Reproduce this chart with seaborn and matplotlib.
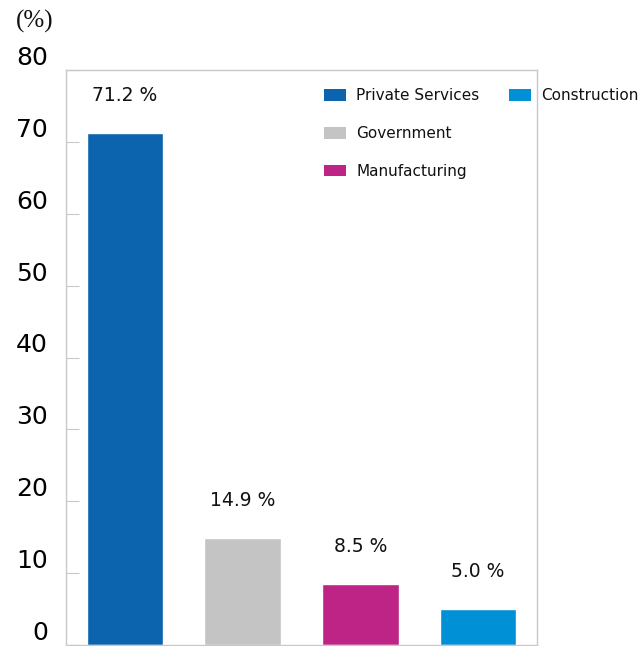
import matplotlib
matplotlib.use("Agg")
import matplotlib.pyplot as plt
import seaborn as sns
import pandas as pd
from matplotlib.patches import Patch

categories = ["Private Services", "Government", "Manufacturing", "Construction"]
values = [71.2, 14.9, 8.5, 5.0]
value_labels = ["71.2 %", "14.9 %", "8.5 %", "5.0 %"]
colors = ["#0C64AE", "#C4C4C4", "#BD2485", "#0090D6"]
yticks = [0, 10, 20, 30, 40, 50, 60, 70, 80]

sns.set_style("white")
plt.rcParams["font.family"] = ["DejaVu Sans"]
plt.rcParams["text.color"] = "#111111"

fig = plt.figure(figsize=(6.41, 6.46), dpi=100)
ax = fig.add_axes([66/641, 1-645/646, (537-66)/641, (645-70)/646])

df = pd.DataFrame({"cat": categories, "val": values})
sns.barplot(data=df, x="cat", y="val", hue="cat", palette=colors,
            width=0.65, legend=False, ax=ax, saturation=1)

ax.set_xlim(-0.5, 3.5)
ax.set_ylim(0, 80)
ax.set_yticks(yticks)
ax.set_yticklabels([str(t) for t in yticks], fontsize=18, color="#000000")
plt.setp(ax.get_yticklabels(), va="bottom")
ax.tick_params(axis="y", direction="in", length=9, color="#C8C8C8", pad=13, left=True)
ax.set_xticks([])
ax.set_xlabel("")
ax.set_ylabel("")
for s in ax.spines.values():
    s.set_color("#C8C8C8")
    s.set_linewidth(1)

for i, (v, lab) in enumerate(zip(values, value_labels)):
    ax.annotate(lab, (i, v), xytext=(0, 28), textcoords="offset pixels",
                ha="center", va="bottom", fontsize=13.5, color="#111111")

leg_kw = dict(loc="upper left", frameon=False, fontsize=11, handlelength=1.45,
              handleheight=0.8, handletextpad=0.65, borderaxespad=0,
              labelcolor="#111111")
handles1 = [Patch(facecolor=c, edgecolor="none") for c in colors[:3]]
leg1 = ax.legend(handles1, categories[:3],
                 bbox_to_anchor=((318-66)/471, 1-(82-70)/575),
                 labelspacing=1.5, **leg_kw)
ax.add_artist(leg1)
handles2 = [Patch(facecolor=colors[3], edgecolor="none")]
ax.legend(handles2, categories[3:],
          bbox_to_anchor=((503-66)/471, 1-(82-70)/575), **leg_kw)

fig.text(16/641, 1-10/646, "(%)", fontsize=18, va="top", ha="left",
         family=["Liberation Serif"], color="#111111")

fig.savefig("out.png", dpi=100)
